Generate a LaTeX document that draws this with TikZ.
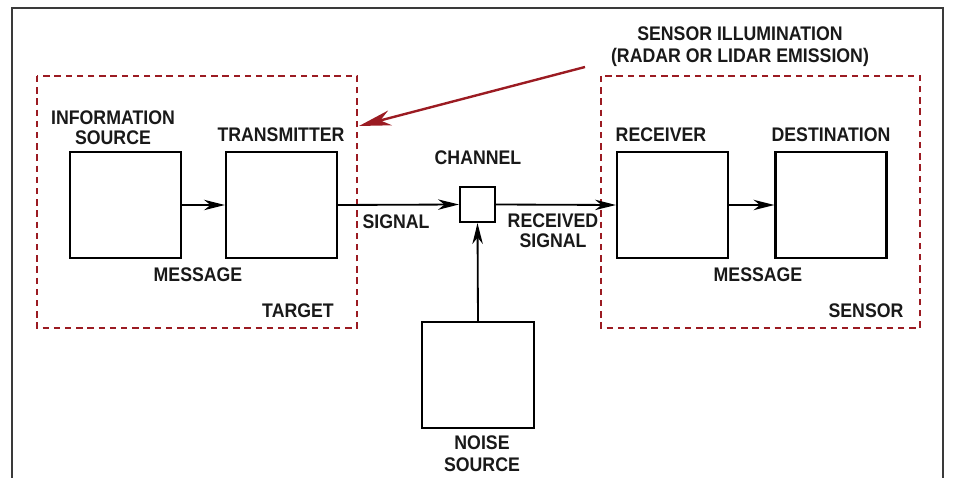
\documentclass[tikz,border=0pt]{standalone}
\usepackage{fontspec}
\setmainfont{Liberation Sans}[FakeStretch=0.9]
\usetikzlibrary{arrows.meta}
\definecolor{darkred}{HTML}{9B1B22}
\definecolor{framegray}{HTML}{3A3A3A}
\begin{document}
\begin{tikzpicture}[x=0.025cm, y=-0.025cm]
	\tikzstyle{Box} = [rectangle, draw=black, line width=1.6pt, fill=white]
	\tikzstyle{Label} = [font=\bfseries\fontsize{14}{14.5}\selectfont, align=center, text=black!90, inner sep=0pt]
	\tikzstyle{Group} = [draw=darkred, line width=1.4pt, dash pattern=on 1.6mm off 1.2mm]
	\tikzstyle{arrow} = [line width=1.3pt, -{Stealth[length=5.2mm, width=2.6mm, inset=1.6mm]}]
	
	\useasboundingbox (0,0) rectangle (954,478);
	\draw [framegray, line width=0.8pt] (12,478) -- (12,8) -- (943,8) -- (943,478);
	
	% target side
	\draw [Group] (37,76) rectangle (357,328);
	\node (source) [Box, minimum width=111*0.025cm, minimum height=106*0.025cm] at (125.5,205) {};
	\node (transmitter) [Box, minimum width=111*0.025cm, minimum height=106*0.025cm] at (281.5,205) {};
	\node [Label] at (113,128) {INFORMATION\\SOURCE};
	\node [Label] at (281,135) {TRANSMITTER};
	\node [Label] at (198,275) {MESSAGE};
	\node [Label] at (298,311) {TARGET};
	
	% channel
	\node (channel) [Box, minimum size=35*0.025cm] at (477.5,204.5) {};
	\node [Label] at (478,158) {CHANNEL};
	\node [Label] at (396,222) {SIGNAL};
	\node [Label] at (553,231) {RECEIVED\\SIGNAL};
	\node (noise) [Box, minimum width=112*0.025cm, minimum height=106*0.025cm] at (478,375) {};
	\node [Label] at (482,454) {NOISE\\[1pt]SOURCE};
	
	% sensor side
	\draw [Group] (601,76) rectangle (920,328);
	\node (receiver) [Box, minimum width=111*0.025cm, minimum height=106*0.025cm] at (672.5,205) {};
	\node (destination) [Box, minimum width=111*0.025cm, minimum height=106*0.025cm] at (831,205) {};
	\node [Label] at (661,135) {RECEIVER};
	\node [Label] at (831,135) {DESTINATION};
	\node [Label] at (758,275) {MESSAGE};
	\node [Label] at (866,311) {SENSOR};
	
	% illumination
	\node (illum) [Label] at (740,47) {SENSOR ILLUMINATION\\[1pt](RADAR OR LIDAR EMISSION)};
	\coordinate (hit) at (359,126);
	\coordinate (start) at (585,67);
	\draw [darkred, line width=1.7pt, -{Stealth[length=8mm, width=3.8mm, inset=2.5mm]}] (start) -- (hit);
	
	% connectors
	\draw [arrow] (source.east) -- (transmitter.west);
	\draw [arrow] (transmitter.east) -- (channel.west);
	\draw [arrow] (channel.east) -- (receiver.west);
	\draw [arrow] (receiver.east) -- (destination.west);
	\draw [arrow] (noise.north) -- (channel.south);
\end{tikzpicture}
\end{document}
